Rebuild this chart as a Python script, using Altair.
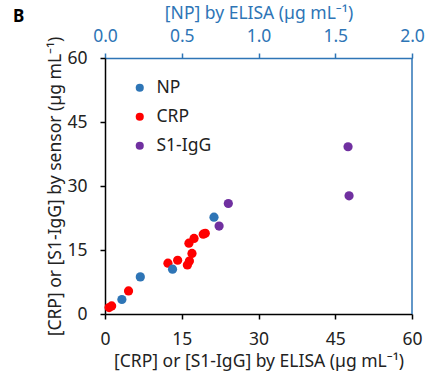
import altair as alt
import pandas as pd

# ELISA vs sensor readings
crp_elisa = [0.8, 1.3, 4.6, 12.3, 14.2, 16.1, 16.5, 17.0, 16.4, 17.4, 19.2, 19.6]
crp_sensor = [1.5, 1.9, 5.4, 11.9, 12.6, 11.5, 12.4, 14.2, 16.6, 17.7, 18.7, 18.9]
s1_elisa = [22.3, 24.1, 47.5, 47.7]
s1_sensor = [20.6, 25.9, 39.2, 27.7]
np_elisa = [0.11, 0.23, 0.44, 0.71]
np_sensor = [3.4, 8.7, 10.5, 22.7]

series = ["NP", "CRP", "S1-IgG"]
colors = ["#2E75B6", "#FF0000", "#7030A0"]
BLUE = "#2E75B6"
INK = "#222222"
FONT = "Noto Sans"
FS = 17.5

main_df = pd.DataFrame({
    "elisa": crp_elisa + s1_elisa,
    "sensor": crp_sensor + s1_sensor,
    "series": ["CRP"] * len(crp_elisa) + ["S1-IgG"] * len(s1_elisa),
})
np_df = pd.DataFrame({"elisa": np_elisa, "sensor": np_sensor, "series": ["NP"] * len(np_elisa)})

color = alt.Color(
    "series:N",
    scale=alt.Scale(domain=series, range=colors),
    legend=alt.Legend(
        title=None, orient="none", legendX=26, legendY=21,
        symbolType="circle", symbolSize=66, symbolStrokeWidth=0,
        labelFontSize=FS, labelFont=FONT, labelColor=INK,
        rowPadding=10, labelOffset=8,
    ),
)

y_enc = alt.Y(
    "sensor:Q",
    scale=alt.Scale(domain=[0, 60], nice=False),
    axis=alt.Axis(
        values=[0, 15, 30, 45, 60], title="[CRP] or [S1-IgG] by sensor (µg mL⁻¹)",
        grid=False, domainColor="black", tickColor="black", domainWidth=1.5,
        tickWidth=1.5, tickSize=5, labelFontSize=FS, titleFontSize=FS,
        labelFont=FONT, titleFont=FONT, titleFontWeight="normal",
        labelColor=INK, titleColor=INK, labelPadding=13, titlePadding=2,
    ),
)

main = alt.Chart(main_df).mark_circle(size=85, opacity=1).encode(
    x=alt.X(
        "elisa:Q",
        scale=alt.Scale(domain=[0, 60], nice=False),
        axis=alt.Axis(
            values=[0, 15, 30, 45, 60], title="[CRP] or [S1-IgG] by ELISA (µg mL⁻¹)",
            grid=False, domainColor="black", tickColor="black", domainWidth=1.5,
            tickWidth=1.5, tickSize=5, labelFontSize=FS, titleFontSize=FS,
            labelFont=FONT, titleFont=FONT, titleFontWeight="normal",
            labelColor=INK, titleColor=INK, labelPadding=11, titlePadding=5,
            labelFlush=False,
        ),
    ),
    y=y_enc,
    color=color,
)

np_layer = alt.Chart(np_df).mark_circle(size=85, opacity=1).encode(
    x=alt.X(
        "elisa:Q",
        scale=alt.Scale(domain=[0, 2], nice=False),
        axis=alt.Axis(
            orient="top", values=[0, 0.5, 1.0, 1.5, 2.0], format=".1f",
            title="[NP] by ELISA (µg mL⁻¹)", grid=False,
            domainColor=BLUE, tickColor=BLUE, domainWidth=1.5, tickWidth=1.5,
            tickSize=5, labelFontSize=FS, titleFontSize=FS, labelFont=FONT,
            titleFont=FONT, titleFontWeight="normal", labelColor=BLUE,
            titleColor=BLUE, labelPadding=8, titlePadding=5, labelFlush=False,
        ),
    ),
    y=alt.Y("sensor:Q"),
    color=color,
)

right_edge = alt.Chart(pd.DataFrame({"v": [0]})).mark_rule(color=BLUE, strokeWidth=1.5).encode(
    x=alt.value(307), y=alt.value(0), y2=alt.value(256)
)

panel_label = alt.Chart(pd.DataFrame({"t": ["B"]})).mark_text(
    fontSize=17, fontWeight="bold", font=FONT, align="left", baseline="alphabetic", color="black"
).encode(x=alt.value(-92), y=alt.value(-36), text="t:N")

chart = (
    alt.layer(main, np_layer, right_edge, panel_label)
    .resolve_scale(x="independent")
    .properties(
        width=307, height=256,
        padding={"left": 105, "top": 58, "right": 14, "bottom": 61},
        autosize=alt.AutoSizeParams(type="none"),
    )
    .configure_view(stroke=None)
)

chart.save("out.html", embed_options={"renderer": "svg", "actions": False})
